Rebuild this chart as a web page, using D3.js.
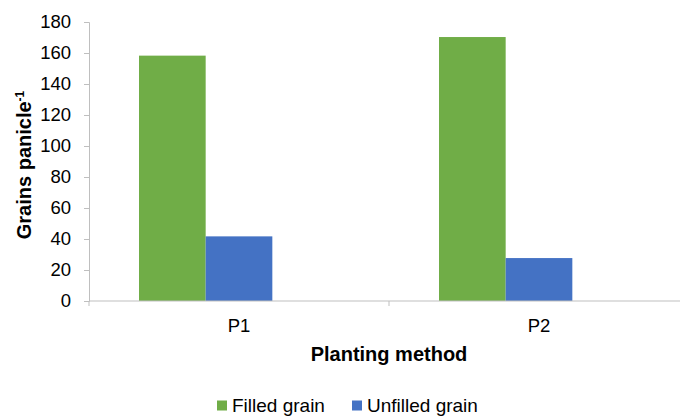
<!DOCTYPE html>
<html>
<head>
<meta charset="utf-8">
<script src="https://cdn.jsdelivr.net/npm/d3@7"></script>
<style>
	body { margin: 0; background: #fff; }
	text { font-family: "Liberation Sans", Arial, sans-serif; fill: #000; }
</style>
</head>
<body>
<svg id="chart" width="680" height="416"></svg>
<script>
var methods = ["P1", "P2"],
	seriesNames = ["Filled grain", "Unfilled grain"],
	seriesColors = ["#70ad47", "#4472c4"],
	filled = [158.3, 170.3],
	unfilled = [41.7, 27.7],
	yTicks = [0, 20, 40, 60, 80, 100, 120, 140, 160, 180];

var values = [filled, unfilled],
	margin = {left: 89, top: 22, right: 689, bottom: 301},
	svg = d3.select("#chart");

var x0 = d3.scaleBand().domain(methods).range([margin.left, margin.right]).paddingInner(0).paddingOuter(0);
// excel leaves room for three bars per cluster, only two are filled
var x1 = d3.scaleBand().domain([0, 1, 2]).range([0, x0.bandwidth() * 2 / 3]);
var clusterOffset = x0.bandwidth() / 6;
var y = d3.scaleLinear().domain([0, 180]).range([margin.bottom, margin.top]);

// bars
seriesNames.forEach(function(name, s){
	svg.append("g").selectAll("rect")
		.data(methods)
		.enter().append("rect")
		.attr("x", function(d){ return x0(d) + clusterOffset + x1(s); })
		.attr("width", x1.bandwidth())
		.attr("y", function(d, i){ return y(values[s][i]); })
		.attr("height", function(d, i){ return y(0) - y(values[s][i]); })
		.attr("fill", seriesColors[s]);
});

// y axis
var yAxis = svg.append("g")
	.attr("transform", "translate(" + margin.left + ",0)")
	.call(d3.axisLeft(y).tickValues(yTicks).tickSize(5).tickPadding(13));
yAxis.selectAll("line, path").attr("stroke", "#bfbfbf");
yAxis.selectAll("text").style("font-size", "18.5px").style("font-family", "Liberation Sans, Arial, sans-serif");

// x axis with ticks on the cluster edges
svg.append("line")
	.attr("x1", margin.left).attr("x2", margin.right)
	.attr("y1", y(0)).attr("y2", y(0))
	.attr("stroke", "#bfbfbf");
var edges = methods.map(function(d){ return x0(d); }).concat([x0(methods[methods.length-1]) + x0.bandwidth()]);
svg.append("g").selectAll("line")
	.data(edges)
	.enter().append("line")
	.attr("x1", function(d){ return d; }).attr("x2", function(d){ return d; })
	.attr("y1", y(0)).attr("y2", y(0) + 5)
	.attr("stroke", "#bfbfbf");
svg.append("g").selectAll("text")
	.data(methods)
	.enter().append("text")
	.attr("x", function(d){ return x0(d) + x0.bandwidth() / 2; })
	.attr("y", 332)
	.attr("text-anchor", "middle")
	.style("font-size", "18.5px")
	.text(function(d){ return d; });

// axis titles
svg.append("text")
	.attr("x", 389).attr("y", 361)
	.attr("text-anchor", "middle")
	.style("font-size", "20px").style("font-weight", "bold")
	.text("Planting method");

var yTitle = svg.append("text")
	.attr("transform", "translate(31,165) rotate(-90)")
	.attr("text-anchor", "middle")
	.style("font-size", "20px").style("font-weight", "bold");
yTitle.append("tspan").text("Grains panicle");
yTitle.append("tspan").attr("dy", -7).style("font-size", "12px").text("-1");

// legend (nudged up a little so the descenders stay inside the picture)
var legendX = [217, 352];
seriesNames.forEach(function(name, s){
	svg.append("rect")
		.attr("x", legendX[s]).attr("y", 400.5)
		.attr("width", 10).attr("height", 10)
		.attr("fill", seriesColors[s]);
	svg.append("text")
		.attr("x", legendX[s] + 15).attr("y", 411.5)
		.style("font-size", "19px")
		.text(name);
});
</script>
</body>
</html>
